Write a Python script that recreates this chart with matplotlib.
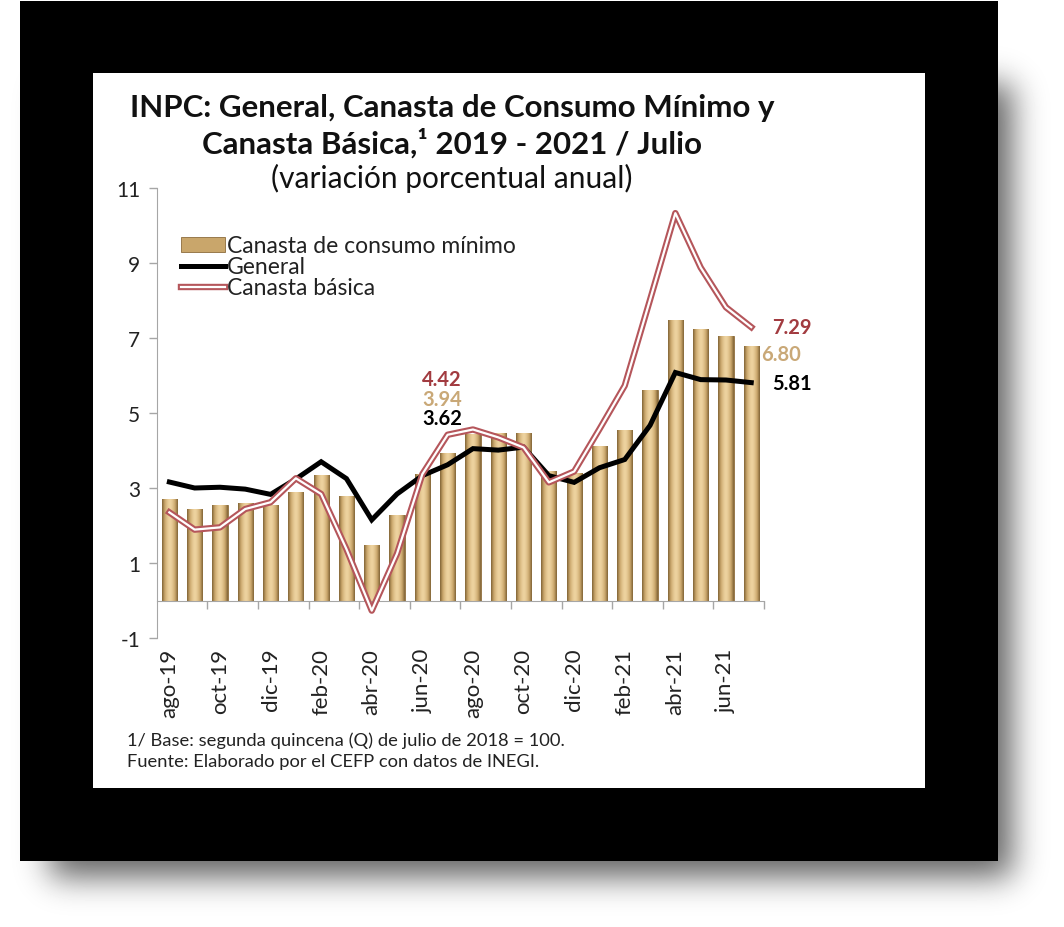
import numpy as np
import matplotlib
matplotlib.use("Agg")
import matplotlib.pyplot as plt
import matplotlib.patheffects as pe
from matplotlib.patches import Rectangle

plt.rcParams['font.family'] = ['Lato', 'DejaVu Sans']
plt.rcParams['axes.unicode_minus'] = False

meses = ['ago-19', 'sep-19', 'oct-19', 'nov-19', 'dic-19',
         'ene-20', 'feb-20', 'mar-20', 'abr-20', 'may-20', 'jun-20', 'jul-20',
         'ago-20', 'sep-20', 'oct-20', 'nov-20', 'dic-20',
         'ene-21', 'feb-21', 'mar-21', 'abr-21', 'may-21', 'jun-21', 'jul-21']

consumo_minimo = [2.71, 2.44, 2.55, 2.61, 2.56, 2.89, 3.35, 2.80, 1.47, 2.29, 3.38, 3.94,
                  4.44, 4.47, 4.47, 3.46, 3.40, 4.12, 4.54, 5.62, 7.48, 7.24, 7.05, 6.80]
general = [3.16, 3.00, 3.02, 2.97, 2.83, 3.24, 3.70, 3.25, 2.15, 2.84, 3.33, 3.62,
           4.05, 4.01, 4.09, 3.33, 3.15, 3.54, 3.76, 4.67, 6.08, 5.89, 5.88, 5.81]
canasta_basica = [2.35, 1.89, 1.95, 2.44, 2.62, 3.26, 2.84, 1.37, -0.27, 1.25, 3.37, 4.42,
                  4.56, 4.35, 4.08, 3.15, 3.44, 4.57, 5.73, 8.02, 10.33, 8.88, 7.82, 7.29]

W, H = 1064, 928
fig = plt.figure(figsize=(W / 100, H / 100), dpi=100)
fig.patch.set_facecolor('white')


def fx(x):
    return x / W


def fy(y):
    return 1 - y / H


# sombra difusa: rectángulo desenfocado con un kernel gaussiano
mask = np.zeros((H, W))
mask[85:878, 50:1012] = 1.0
k = np.arange(-50, 51)
kern = np.exp(-0.5 * (k / 16.0) ** 2)
kern /= kern.sum()
mask = np.apply_along_axis(lambda r: np.convolve(r, kern, mode='same'), 1, mask)
mask = np.apply_along_axis(lambda c: np.convolve(c, kern, mode='same'), 0, mask)
bg = fig.add_axes([0, 0, 1, 1], zorder=0)
bg.imshow(1 - 0.62 * mask, cmap='gray', vmin=0, vmax=1, extent=[0, W, H, 0],
          aspect='auto', interpolation='bilinear')
bg.set_xlim(0, W)
bg.set_ylim(H, 0)
bg.axis('off')

# marco negro y panel blanco
fig.patches.append(Rectangle((fx(20), fy(862)), fx(978), 860 / H, transform=fig.transFigure,
                             facecolor='black', edgecolor='none', zorder=1))
fig.patches.append(Rectangle((fx(93), fy(789)), fx(832), 715 / H, transform=fig.transFigure,
                             facecolor='white', edgecolor='none', zorder=2))

ax = fig.add_axes([fx(156.7), fy(639), 607.2 / W, 450 / H])
ax.set_zorder(3)
ax.patch.set_alpha(0)

x = np.arange(len(meses))
bars = ax.bar(x, consumo_minimo, width=0.6, color='#C9A66B', edgecolor='#8C6C3C',
              linewidth=0.6, zorder=2, label='Canasta de consumo mínimo')

# sombreado cilíndrico de las barras
grad = np.linspace(-1, 1, 64)
shade = 1 - np.abs(grad) ** 1.6
cmap = matplotlib.colors.LinearSegmentedColormap.from_list('oro', ['#7E6134', '#C9A66B', '#EED3A0'])
for b in bars:
    bx, by = b.get_x(), b.get_y()
    bw, bh = b.get_width(), b.get_height()
    im = ax.imshow(shade[np.newaxis, :], cmap=cmap, aspect='auto',
                   extent=[bx, bx + bw, by, by + bh], zorder=2.1, interpolation='bicubic')
    im.set_clip_path(b)

ax.plot(x, general, color='black', lw=3.6, zorder=4, label='General',
        solid_joinstyle='miter')
ax.plot(x, canasta_basica, color='white', lw=1.6, zorder=5, label='Canasta básica',
        path_effects=[pe.Stroke(linewidth=4.6, foreground='#B5565B'), pe.Normal()])

ax.set_xlim(-0.5, len(meses) - 0.5)
ax.set_ylim(-1, 11)
ax.set_yticks([-1, 1, 3, 5, 7, 9, 11])
for s in ['top', 'right']:
    ax.spines[s].set_visible(False)
ax.spines['left'].set_color('#A6A6A6')
ax.spines['bottom'].set_color('#A6A6A6')
ax.spines['bottom'].set_position(('data', 0))
ax.tick_params(axis='y', colors='#A6A6A6', labelcolor='#222222', labelsize=15, length=6,
               width=1, pad=6)
ax.set_xticks(x[::2])
ax.set_xticklabels(meses[::2], rotation=90, fontsize=16, color='#222222')
ax.tick_params(axis='x', which='major', length=0, pad=34)
ax.set_xticks(np.arange(1.5, len(meses), 2), minor=True)
ax.tick_params(axis='x', which='minor', length=6, color='#A6A6A6', width=1, direction='out')

# etiquetas de datos
lab = dict(textcoords='offset points', va='center', fontsize=14.5, fontweight='bold',
           annotation_clip=False)
i = 11
ax.annotate(f'{canasta_basica[i]:.2f}', (x[i], canasta_basica[i]), xytext=(-4, 40),
            ha='center', color='#A23B40', **lab)
ax.annotate(f'{consumo_minimo[i]:.2f}', (x[i], consumo_minimo[i]), xytext=(-4, 39),
            ha='center', color='#C9A877', **lab)
ax.annotate(f'{general[i]:.2f}', (x[i], general[i]), xytext=(-4, 34),
            ha='center', color='black', **lab)
j = len(meses) - 1
ax.annotate(f'{canasta_basica[j]:.2f}', (x[j], canasta_basica[j]), xytext=(15, 0),
            ha='left', color='#A23B40', **lab)
ax.annotate(f'{consumo_minimo[j]:.2f}', (x[j], consumo_minimo[j]), xytext=(7, -6),
            ha='left', color='#C9A877', **lab)
ax.annotate(f'{general[j]:.2f}', (x[j], general[j]), xytext=(15, 0),
            ha='left', color='black', **lab)

handles, labels = ax.get_legend_handles_labels()
orden = [labels.index('Canasta de consumo mínimo'), labels.index('General'),
         labels.index('Canasta básica')]
leg = ax.legend([handles[k] for k in orden], [labels[k] for k in orden],
                loc='upper left', bbox_to_anchor=(0.025, 0.915), frameon=False, fontsize=16.5,
                handlelength=1.9, handleheight=0.6, handletextpad=0.1, labelspacing=0.0,
                borderaxespad=0)
for t in leg.get_texts():
    t.set_color('#222222')

fig.text(fx(452), fy(108), 'INPC: General, Canasta de Consumo Mínimo y', ha='center',
         va='center', fontsize=22.5, fontweight='bold', color='#111111', zorder=4)
fig.text(fx(452), fy(143), 'Canasta Básica,¹ 2019 - 2021 / Julio', ha='center',
         va='center', fontsize=22.5, fontweight='bold', color='#111111', zorder=4)
fig.text(fx(452), fy(178), '(variación porcentual anual)', ha='center', va='center',
         fontsize=21.5, color='#111111', zorder=4)
fig.text(fx(127), fy(741), '1/ Base: segunda quincena (Q) de julio de 2018 = 100.',
         ha='left', va='center', fontsize=13.2, color='#222222', zorder=4)
fig.text(fx(127), fy(762), 'Fuente: Elaborado por el CEFP con datos de INEGI.',
         ha='left', va='center', fontsize=13.2, color='#222222', zorder=4)

fig.savefig('out.png', dpi=100)
